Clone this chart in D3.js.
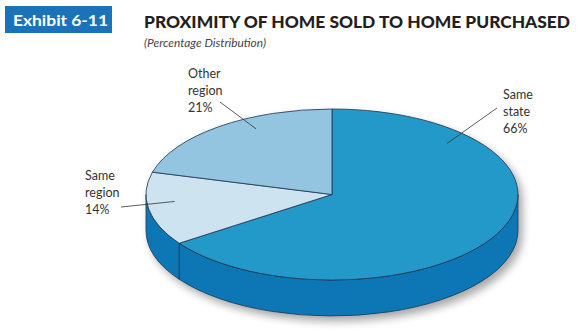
<!DOCTYPE html>
<html>
<head>
<meta charset="utf-8">
<title>Proximity of home sold to home purchased</title>
<style>
body { margin: 0; background: #fff; }
svg { display: block; }
</style>
<script src="https://d3js.org/d3.v7.min.js"></script>
</head>
<body>
<script>
// data
var categories = ["Same state", "Same region", "Other region"];
var values = [66, 14, 21];
var labelLines = [["Same", "state", "66%"], ["Same", "region", "14%"], ["Other", "region", "21%"]];

var W = 577, H = 333;
var cx = 332, cy = 194.5, rx = 186, ry = 85.5, depth = 36;
var topColor = ["#2399c8", "#cde3f0", "#93c4e0"];
var sideColor = "#0e76b5";
var edge = "#1c3550";

var svg = d3.select("body").append("svg")
    .attr("width", W)
    .attr("height", H);

var defs = svg.append("defs");
var f = defs.append("filter").attr("id", "shadow")
    .attr("x", "-20%").attr("y", "-20%").attr("width", "140%").attr("height", "150%");
f.append("feGaussianBlur").attr("in", "SourceAlpha").attr("stdDeviation", 4).attr("result", "b");
f.append("feOffset").attr("in", "b").attr("dx", 4).attr("dy", 5).attr("result", "o");
f.append("feComponentTransfer").attr("in", "o").attr("result", "s")
  .append("feFuncA").attr("type", "linear").attr("slope", 0.35);
var fm = f.append("feMerge");
fm.append("feMergeNode").attr("in", "s");
fm.append("feMergeNode").attr("in", "SourceGraphic");

// header
svg.append("rect")
    .attr("x", 5).attr("y", 6).attr("width", 107).attr("height", 27)
    .attr("fill", "#1a73b8");
svg.append("text")
    .attr("x", 13).attr("y", 26)
    .attr("fill", "#fff")
    .attr("font-family", "Lato, 'Open Sans', sans-serif")
    .attr("font-weight", "bold")
    .attr("font-size", "16px")
    .attr("textLength", 95).attr("lengthAdjust", "spacingAndGlyphs")
    .text("Exhibit 6-11");
svg.append("text")
    .attr("x", 144).attr("y", 28)
    .attr("fill", "#231f20")
    .attr("font-family", "Lato, 'Open Sans', sans-serif")
    .attr("font-weight", "900")
    .attr("font-size", "17.5px")
    .attr("textLength", 426).attr("lengthAdjust", "spacingAndGlyphs")
    .text("PROXIMITY OF HOME SOLD TO HOME PURCHASED");
svg.append("text")
    .attr("x", 144).attr("y", 47)
    .attr("fill", "#444")
    .attr("font-family", "Lato, 'Open Sans', sans-serif")
    .attr("font-style", "italic")
    .attr("font-size", "10.5px")
    .attr("textLength", 122).attr("lengthAdjust", "spacingAndGlyphs")
    .text("(Percentage Distribution)");

// pie geometry: angle measured clockwise from 12 o'clock
var pie = d3.pie().sort(null).startAngle(0).endAngle(2 * Math.PI);
var arcs = pie(values);
function px(a) { return cx + rx * Math.sin(a); }
function py(a) { return cy - ry * Math.cos(a); }

function topPath(d) {
  var large = (d.endAngle - d.startAngle) > Math.PI ? 1 : 0;
  return "M" + cx + "," + cy +
    "L" + px(d.startAngle) + "," + py(d.startAngle) +
    "A" + rx + "," + ry + " 0 " + large + " 1 " + px(d.endAngle) + "," + py(d.endAngle) + "Z";
}
function sidePath(a0, a1) {
  var large = (a1 - a0) > Math.PI ? 1 : 0;
  return "M" + px(a0) + "," + py(a0) +
    "A" + rx + "," + ry + " 0 " + large + " 1 " + px(a1) + "," + py(a1) +
    "L" + px(a1) + "," + (py(a1) + depth) +
    "A" + rx + "," + ry + " 0 " + large + " 0 " + px(a0) + "," + (py(a0) + depth) + "Z";
}

var g = svg.append("g").attr("filter", "url(#shadow)");

// visible sides: front half between 90 and 270 degrees
var sides = arcs.map(function(d) {
  return { a0: Math.max(d.startAngle, Math.PI / 2), a1: Math.min(d.endAngle, 3 * Math.PI / 2) };
}).filter(function(s) { return s.a1 > s.a0; });

g.selectAll("path.side")
    .data(sides)
  .enter().append("path")
    .attr("class", "side")
    .attr("d", function(s) { return sidePath(s.a0, s.a1); })
    .attr("fill", sideColor)
    .attr("stroke", edge)
    .attr("stroke-width", 0.8)
    .attr("stroke-linejoin", "round");

g.selectAll("path.top")
    .data(arcs)
  .enter().append("path")
    .attr("class", "top")
    .attr("d", topPath)
    .attr("fill", function(d, i) { return topColor[i]; })
    .attr("stroke", edge)
    .attr("stroke-width", 0.8)
    .attr("stroke-linejoin", "round");

// labels
var labelPos = [
  { x: 503, y: 99, lx: 497, ly: 108, ang: 46, rf: 0.86 },
  { x: 85, y: 180, lx: 121, ly: 207, ang: 264.5, rf: 0.85 },
  { x: 188, y: 78, lx: 220, ly: 102, ang: 332, rf: 0.87 }
];

var lab = svg.append("g").selectAll("g")
    .data(categories)
  .enter().append("g");

lab.append("line")
    .attr("x1", function(d, i) { return labelPos[i].lx; })
    .attr("y1", function(d, i) { return labelPos[i].ly; })
    .attr("x2", function(d, i) { var a = labelPos[i].ang * Math.PI / 180; return cx + rx * labelPos[i].rf * Math.sin(a); })
    .attr("y2", function(d, i) { var a = labelPos[i].ang * Math.PI / 180; return cy - ry * labelPos[i].rf * Math.cos(a); })
    .attr("stroke", "#333")
    .attr("stroke-width", 0.8);

lab.append("text")
    .attr("font-family", "Lato, 'Open Sans', sans-serif")
    .attr("font-size", "12.5px")
    .attr("fill", "#333")
    .selectAll("tspan")
    .data(function(d, i) { return labelLines[i].map(function(t) { return { t: t, i: i }; }); })
  .enter().append("tspan")
    .attr("x", function(d) { return labelPos[d.i].x; })
    .attr("y", function(d, j) { return labelPos[d.i].y + j * 16.8; })
    .text(function(d) { return d.t; });
</script>
</body>
</html>
